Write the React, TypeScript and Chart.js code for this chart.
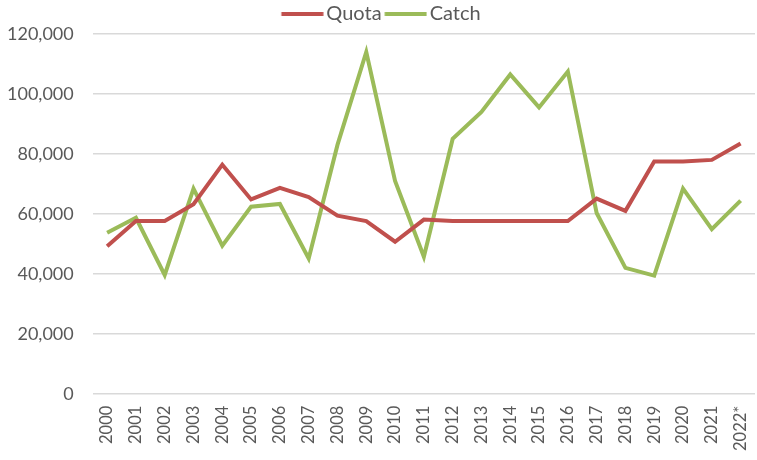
import React, { useEffect, useRef } from "react";
import { Chart, registerables } from "chart.js";

Chart.register(...registerables);

const years = [
  "2000", "2001", "2002", "2003", "2004", "2005", "2006", "2007", "2008", "2009",
  "2010", "2011", "2012", "2013", "2014", "2015", "2016", "2017", "2018", "2019",
  "2020", "2021", "2022*",
];

const quota = [
  49200, 57600, 57600, 63200, 76400, 64800, 68700, 65600, 59400, 57600,
  50700, 58100, 57600, 57600, 57600, 57600, 57600, 65100, 61000, 77500,
  77500, 78000, 83500,
];

const catchValues = [
  53700, 58700, 39600, 68400, 49400, 62400, 63300, 45100, 83000, 114000,
  71000, 45700, 85000, 94000, 106500, 95500, 107500, 60300, 42000, 39400,
  68400, 54900, 64400,
];

const yTicks = [0, 20000, 40000, 60000, 80000, 100000, 120000];

const seriesColors = ["#C0504D", "#9BBB59"];

const FONT = "Lato, 'Open Sans', sans-serif";
const TEXT = "#595959";

function legendLine(color: string): HTMLCanvasElement {
  const c = document.createElement("canvas");
  c.width = 50;
  c.height = 4;
  const g = c.getContext("2d")!;
  g.fillStyle = color;
  g.fillRect(7.5, 0, 42, 4);
  return c;
}

export default function App() {
  const ref = useRef<HTMLCanvasElement | null>(null);

  useEffect(() => {
    document.body.style.margin = "0";
    const ctx = ref.current!;
    const images = seriesColors.map(legendLine);
    const chart = new Chart(ctx, {
      type: "line",
      data: {
        labels: years,
        datasets: [
          {
            label: "Quota",
            data: quota,
            borderColor: seriesColors[0],
            backgroundColor: seriesColors[0],
            borderWidth: 4,
            pointRadius: 0,
            pointStyle: images[0] as any,
            tension: 0,
          },
          {
            label: "Catch",
            data: catchValues,
            borderColor: seriesColors[1],
            backgroundColor: seriesColors[1],
            borderWidth: 4,
            pointRadius: 0,
            pointStyle: images[1] as any,
            tension: 0,
          },
        ],
      },
      options: {
        animation: false,
        responsive: false,
        maintainAspectRatio: false,
        layout: { padding: { left: 7, right: 2, top: 1, bottom: -3 } },
        plugins: {
          tooltip: { enabled: false },
          legend: {
            position: "top",
            labels: {
              usePointStyle: true,
              pointStyleWidth: 35,
              boxHeight: 20,
              padding: 3,
              color: TEXT,
              font: { family: FONT, size: 20 },
            },
          },
        },
        scales: {
          x: {
            offset: true,
            grid: { display: false, drawTicks: false },
            border: { display: false },
            afterFit: (scale: any) => {
              scale.paddingLeft = 0;
              scale.paddingRight = 0;
            },
            ticks: {
              color: TEXT,
              font: { family: FONT, size: 16.5 },
              minRotation: 90,
              maxRotation: 90,
              autoSkip: false,
              padding: 12,
            },
          },
          y: {
            min: 0,
            max: 120000,
            afterBuildTicks: (axis: any) => {
              axis.ticks = yTicks.map((v) => ({ value: v }));
            },
            afterFit: (scale: any) => {
              scale.width = scale.width - 19;
            },
            grid: { color: "#D9D9D9", lineWidth: 1.5, drawTicks: false },
            border: { display: false },
            ticks: {
              color: TEXT,
              font: { family: FONT, size: 18 },
              padding: 19,
              callback: (v: any) => Number(v).toLocaleString("en-US"),
            },
          },
        },
      },
    });
    return () => chart.destroy();
  }, []);

  return (
    <div style={{ position: "absolute", left: 0, top: 0, width: 757, height: 460, background: "#fff" }}>
      <canvas ref={ref} width={757} height={460} style={{ width: 757, height: 460 }} />
    </div>
  );
}
